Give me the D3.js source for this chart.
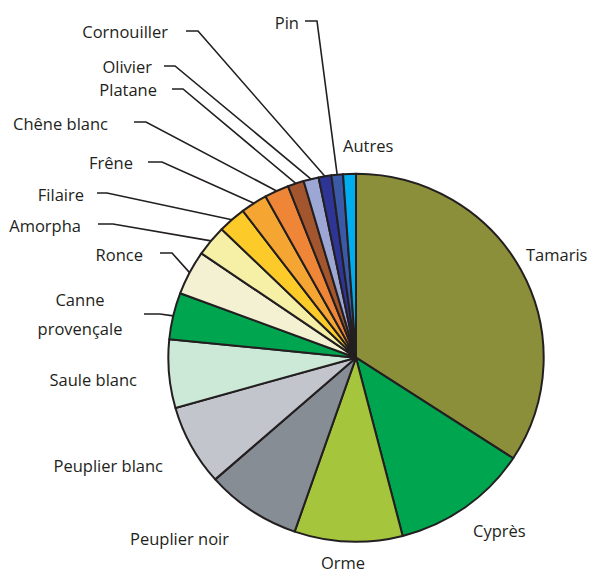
<!DOCTYPE html>
<html>
<head>
<meta charset="utf-8">
<script src="https://cdn.jsdelivr.net/npm/d3@7"></script>
<style>
  body { margin: 0; background: #fff; }
  svg { display: block; }
</style>
</head>
<body>
<svg id="chart" width="589" height="572"></svg>
<script>
// species, clockwise from 12 o'clock
const species = ["Tamaris", "Cyprès", "Orme", "Peuplier noir", "Peuplier blanc", "Saule blanc",
    "Canne provençale", "Ronce", "Amorpha", "Filaire", "Frêne", "Chêne blanc", "Platane",
    "Olivier", "Cornouiller", "Pin", "Autres"];

// share of each species (%)
const shares = [34.2, 11.8, 9.3, 8.2, 7.1, 6.0, 4.1, 3.9, 2.7, 2.4, 2.3, 2.1, 1.4, 1.3, 1.1, 1.0, 1.1];

const colors = ["#8c8f3a", "#00a54f", "#a5c63c", "#868d94", "#c2c5cc", "#cce8d7",
    "#00a54f", "#f3f1d2", "#f6efa6", "#fccb2a", "#f4a532", "#ef8536", "#a3552d",
    "#9ca7d6", "#2e3594", "#3a5aa8", "#00aeef"];

// where each name sits; leader = [start x, elbow x, y] for the ones with a line
const labelPos = {
    "Tamaris":        { x: 526, y: 254, anchor: "start" },
    "Cyprès":         { x: 473, y: 530, anchor: "start" },
    "Orme":           { x: 343, y: 562, anchor: "middle" },
    "Peuplier noir":  { x: 229, y: 538, anchor: "end" },
    "Peuplier blanc": { x: 163, y: 465, anchor: "end" },
    "Saule blanc":    { x: 137, y: 379, anchor: "end" },
    "Canne provençale": { x: 80, y: 299, anchor: "middle", lines: ["Canne", "provençale"], leader: [144, 160, 314] },
    "Ronce":          { x: 143, y: 254, anchor: "end", leader: [160, 172, 253] },
    "Amorpha":        { x: 81,  y: 225, anchor: "end", leader: [98, 113, 224] },
    "Filaire":        { x: 84,  y: 194, anchor: "end", leader: [97, 107, 193] },
    "Frêne":          { x: 133, y: 162, anchor: "end", leader: [148, 162, 162] },
    "Chêne blanc":    { x: 108, y: 123, anchor: "end", leader: [134, 146, 122] },
    "Platane":        { x: 157, y: 89,  anchor: "end", leader: [172, 183, 89] },
    "Olivier":        { x: 152, y: 66,  anchor: "end", leader: [164, 175, 66] },
    "Cornouiller":    { x: 168, y: 31,  anchor: "end", leader: [186, 198, 31] },
    "Pin":            { x: 299, y: 22,  anchor: "end", leader: [305, 317, 21] },
    "Autres":         { x: 343, y: 145, anchor: "start" }
};

const svg = d3.select("#chart");
const cx = 356, cy = 357.7;
const radius = 184;
const stretch = 1.02; // the original pie is a touch wider than tall

const pie = d3.pie().sort(null).value(d => d);
const arcs = pie(shares);
const arc = d3.arc().innerRadius(0).outerRadius(radius);

const g = svg.append("g")
    .attr("transform", `translate(${cx},${cy}) scale(${stretch},1)`);

g.selectAll("path.slice")
    .data(arcs)
    .enter().append("path")
    .attr("class", "slice")
    .attr("d", arc)
    .attr("fill", (d, i) => colors[i])
    .attr("stroke", "#231f20")
    .attr("stroke-width", 2)
    .attr("stroke-linejoin", "round")
    .attr("vector-effect", "non-scaling-stroke");

// point on the rim in the middle of a slice
const rimPoint = d => {
    const a = (d.startAngle + d.endAngle) / 2;
    return [cx + radius * stretch * Math.sin(a), cy - radius * Math.cos(a)];
};

const labels = svg.append("g")
    .attr("font-family", "'Open Sans', 'Noto Sans', sans-serif")
    .attr("font-size", 16.5)
    .attr("fill", "#231f20");

arcs.forEach((d, i) => {
    const name = species[i];
    const p = labelPos[name];
    const lines = p.lines || [name];

    lines.forEach((t, k) => {
        labels.append("text")
            .attr("x", p.x)
            .attr("y", p.y + k * 29)
            .attr("text-anchor", p.anchor)
            .attr("dominant-baseline", "central")
            .text(t);
    });

    if (p.leader) {
        const end = rimPoint(d);
        const pts = [[p.leader[0], p.leader[2]], [p.leader[1], p.leader[2]], end];
        svg.append("path")
            .attr("d", d3.line()(pts))
            .attr("fill", "none")
            .attr("stroke", "#231f20")
            .attr("stroke-width", 1.6);
    }
});
</script>
</body>
</html>
